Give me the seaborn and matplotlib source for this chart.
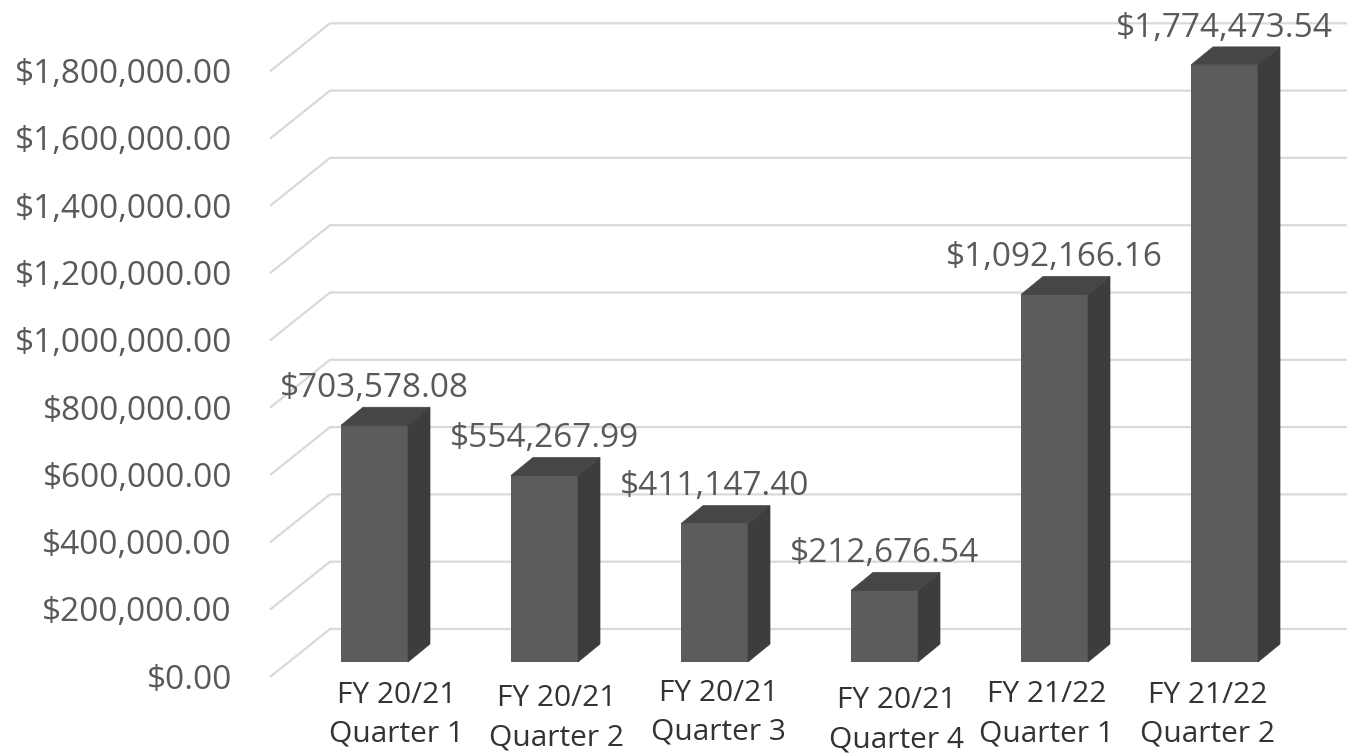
import numpy as np
import pandas as pd
import matplotlib
matplotlib.use("Agg")
import matplotlib.pyplot as plt
import seaborn as sns
from matplotlib.patches import Polygon
from matplotlib.lines import Line2D
from matplotlib.transforms import IdentityTransform, ScaledTranslation, blended_transform_factory

# ---------------- data ----------------
fiscal_years = ["FY 20/21", "FY 20/21", "FY 20/21", "FY 20/21", "FY 21/22", "FY 21/22"]
quarters = ["Quarter 1", "Quarter 2", "Quarter 3", "Quarter 4", "Quarter 1", "Quarter 2"]
amounts = [703578.08, 554267.99, 411147.40, 212676.54, 1092166.16, 1774473.54]
y_ticks = [0, 200000, 400000, 600000, 800000, 1000000, 1200000, 1400000, 1600000, 1800000]

# ---------------- layout ----------------
W, H = 1347, 753
ZERO_Y = 662            # pixel row (from top) of value 0 on bar front plane
PX_PER_200K = 67.3
BAR_X0 = 374.5          # pixel centre of first bar
BAR_STEP = 170.0
BAR_W = 67.0
DX, DY = 22, 18         # bar depth offset (px)
WALL_DX, WALL_DY = 330, 33   # back wall: x start, y lift (px)
FRONT_X, FRONT_DY = 270, -15  # front edge of floor
TICK_RIGHT = 232
CAP_T = 11.7            # half cap height, tick/data fonts (px)
cat_dx = [22, 12, 4, 12, -8, -17]
cat_dy = [0, 3, -2, 5, -1, 0]

sns.set_theme(style="white")
plt.rcParams["font.family"] = ["Open Sans", "DejaVu Sans"]

fig = plt.figure(figsize=(W / 100, H / 100), dpi=100)
top_px = ZERO_Y - y_ticks[-1] / 200000 * PX_PER_200K
ax = fig.add_axes([0, (H - ZERO_Y) / H, 1, (ZERO_Y - top_px) / H])

df = pd.DataFrame({"cat": [f"{a}\n{b}" for a, b in zip(fiscal_years, quarters)],
                   "amount": amounts})
sns.barplot(data=df, x="cat", y="amount", width=BAR_W / BAR_STEP, color="#5c5c5c",
            saturation=1, linewidth=0, ax=ax, zorder=3)
ax.set_xlim(-BAR_X0 / BAR_STEP, (W - BAR_X0) / BAR_STEP)
ax.set_ylim(0, y_ticks[-1])
ax.axis("off")

ident = IdentityTransform()
def ydisp(v):
    return ax.transData.transform((0, v))[1]

# gridlines (perspective: diagonal on left, horizontal on back wall)
for v in y_ticks:
    yd = ydisp(v)
    xs = [FRONT_X, WALL_DX, W]
    ys = [yd + FRONT_DY, yd + WALL_DY, yd + WALL_DY]
    ln = Line2D(xs, ys, transform=ident, color="#d9d9d9", lw=1.6, zorder=1,
                clip_on=False, solid_capstyle="butt")
    ax.add_artist(ln)

# 3-D sides and tops of bars
bars = list(ax.patches)
for i, p in enumerate(bars):
    x0, w, h = p.get_x(), p.get_width(), p.get_height()
    xl, yb = ax.transData.transform((x0, 0))
    xr, yt = ax.transData.transform((x0 + w, h))
    side = Polygon([(xr, yb), (xr + DX, yb + DY), (xr + DX, yt + DY), (xr, yt)],
                   closed=True, transform=ident, facecolor="#3d3d3d",
                   edgecolor="#3d3d3d", lw=0.5, zorder=4, clip_on=False)
    top = Polygon([(xl, yt), (xl + DX, yt + DY), (xr + DX, yt + DY), (xr, yt)],
                  closed=True, transform=ident, facecolor="#464646",
                  edgecolor="#464646", lw=0.5, zorder=4, clip_on=False)
    ax.add_artist(side)
    ax.add_artist(top)
    # value label
    off = ScaledTranslation(0, (DY + 22 - CAP_T) / 100, fig.dpi_scale_trans)
    ax.text(x0 + w / 2, h, f"${amounts[i]:,.2f}", transform=ax.transData + off,
            ha="center", va="baseline", fontsize=24, color="#595959",
            clip_on=False, zorder=6)
    # category labels
    for j, txt in enumerate([fiscal_years[i], quarters[i]]):
        offc = ScaledTranslation(cat_dx[i] / 100, -(41 + 39 * j + cat_dy[i]) / 100,
                                 fig.dpi_scale_trans)
        ax.text(x0 + w / 2, 0, txt, transform=ax.transData + offc,
                ha="center", va="baseline", fontsize=21.5, color="#333333",
                clip_on=False, zorder=6)

# y tick labels
bt = blended_transform_factory(ax.transAxes, ax.transData)
for v in y_ticks:
    off = ScaledTranslation(0, (FRONT_DY - CAP_T) / 100, fig.dpi_scale_trans)
    ax.text(TICK_RIGHT / W, v, f"${v:,.2f}", transform=bt + off, ha="right",
            va="baseline", fontsize=24, color="#595959", clip_on=False)

fig.savefig("out.png", dpi=100)
